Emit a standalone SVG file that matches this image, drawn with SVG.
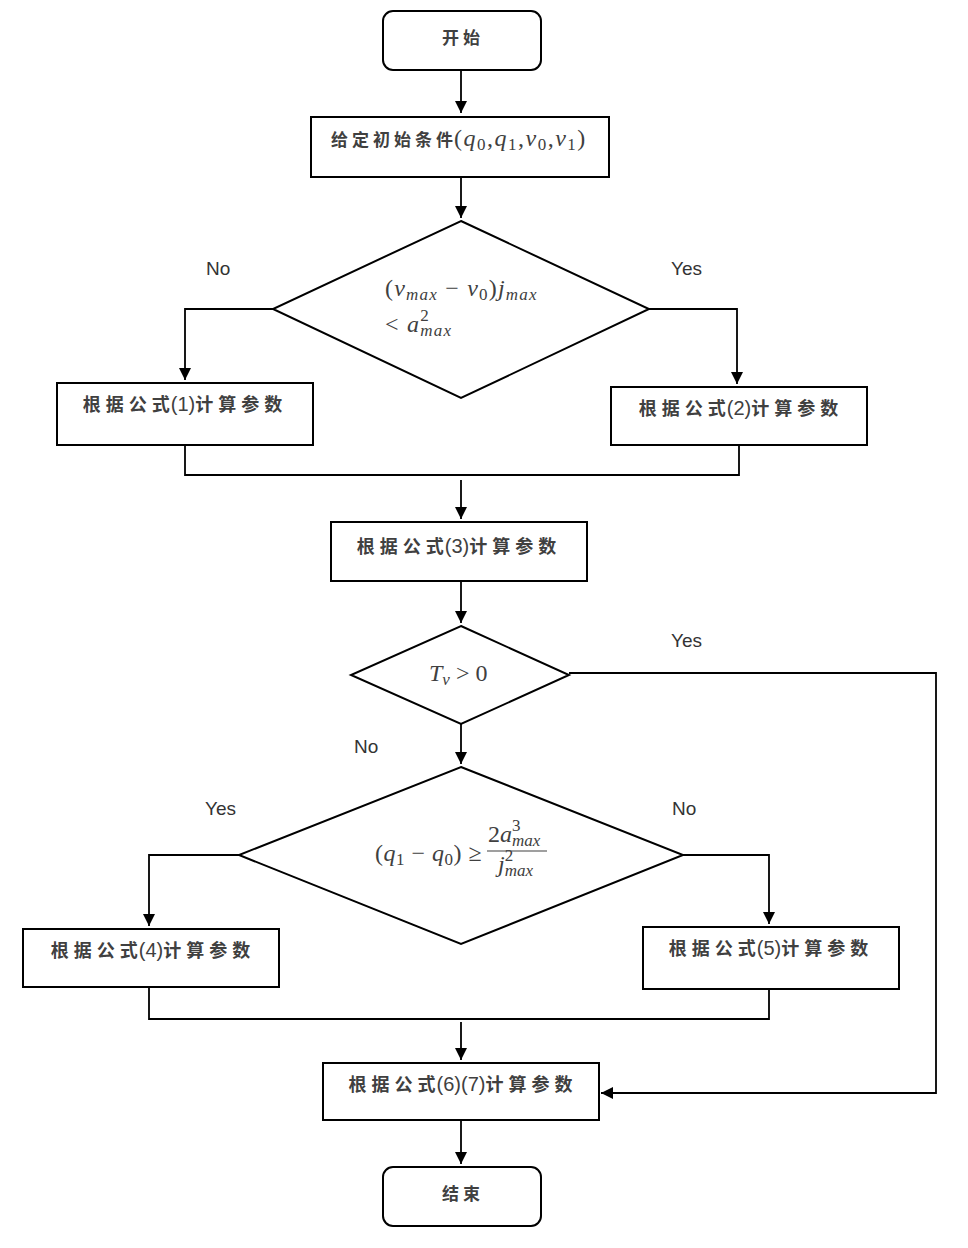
<svg xmlns="http://www.w3.org/2000/svg" width="968" height="1248" viewBox="0 0 968 1248">
<defs>
<marker id="arr" viewBox="0 0 10 10" refX="10" refY="5" markerWidth="12" markerHeight="12" markerUnits="userSpaceOnUse" orient="auto">
<path d="M0,0 L10,5 L0,10 Z" fill="#000"/>
</marker>
<style>
.box{fill:#fff;stroke:#000;stroke-width:2}
.ln{fill:none;stroke:#000;stroke-width:1.8}
.ar{fill:none;stroke:#000;stroke-width:1.8;marker-end:url(#arr)}
.cn{font-family:"Noto Sans CJK SC","Noto Sans CJK JP",sans-serif;font-weight:bold;font-size:17px;fill:#404040;text-anchor:middle}
.cs{font-family:"Noto Sans CJK SC","Noto Sans CJK JP",sans-serif;font-weight:bold;font-size:18px;letter-spacing:5px}
.c0{letter-spacing:1px}
.pn{font-family:"Liberation Sans",Arial,sans-serif;font-size:20px;letter-spacing:0}
.ft{fill:#404040;text-anchor:middle}
.m{font-family:"Liberation Serif",serif;font-style:italic;font-size:24px;fill:#404040}
.mu{font-family:"Liberation Serif",serif;font-size:24px;fill:#404040}
.sb{font-size:17px}
.sp{letter-spacing:1.5px}
.sp1{letter-spacing:1.2px}
.lb{font-family:"Liberation Sans",Arial,sans-serif;font-size:19px;fill:#333}
</style>
</defs>
<rect width="968" height="1248" fill="#fff"/>
<g id="connectors">
<path class="ar" d="M461,70 V113"/>
<path class="ar" d="M461,177 V218"/>
<path class="ar" d="M273,309 H185 V380"/>
<path class="ar" d="M649,309 H737 V384"/>
<path class="ln" d="M185,445 V475 H739 V445"/>
<path class="ar" d="M461,480 V519"/>
<path class="ar" d="M461,581 V623"/>
<path class="ar" d="M569,673 H936 V1093 H601"/>
<path class="ar" d="M461,724 V764"/>
<path class="ar" d="M239,855 H149 V926"/>
<path class="ar" d="M683,855 H769 V924"/>
<path class="ln" d="M149,987 V1019 H769 V989"/>
<path class="ar" d="M461,1022 V1060"/>
<path class="ar" d="M461,1120 V1164"/>
</g>
<g id="start">
<rect class="box" x="383" y="11" width="158" height="59" rx="10"/>
<text class="cn" x="463" y="44" style="letter-spacing:4px">开始</text>
</g>
<g id="init">
<rect class="box" x="311" y="117" width="298" height="60"/>
<text x="331" y="146" fill="#404040"><tspan class="cs" style="font-size:17px;letter-spacing:4px">给定初始条</tspan><tspan class="cs c0" style="font-size:17px">件</tspan><tspan class="sp"><tspan class="mu">(</tspan><tspan class="m">q</tspan><tspan class="mu sb" dy="4">0</tspan><tspan class="mu" dy="-4">,</tspan><tspan class="m">q</tspan><tspan class="mu sb" dy="4">1</tspan><tspan class="mu" dy="-4">,</tspan><tspan class="m">v</tspan><tspan class="mu sb" dy="4">0</tspan><tspan class="mu" dy="-4">,</tspan><tspan class="m">v</tspan><tspan class="mu sb" dy="4">1</tspan><tspan class="mu" dy="-4">)</tspan></tspan></text>
</g>
<g id="cond1">
<polygon class="box" points="461,221 649,309 461,398 273,309"/>
<text x="385" y="296" class="sp1"><tspan class="mu">(</tspan><tspan class="m">v</tspan><tspan class="m sb" dy="4">max</tspan><tspan class="mu" dy="-4"> − </tspan><tspan class="m">v</tspan><tspan class="mu sb" dy="4">0</tspan><tspan class="mu" dy="-4">)</tspan><tspan class="m">j</tspan><tspan class="m sb" dy="4">max</tspan></text>
<text x="385" y="332" class="sp1"><tspan class="mu">&lt; </tspan><tspan class="m">a</tspan><tspan class="mu sb" dy="-11">2</tspan><tspan class="m sb" dx="-9.5" dy="15">max</tspan></text>
</g>
<g id="f1">
<rect class="box" x="57" y="383" width="256" height="62"/>
<text class="ft" x="185" y="411"><tspan class="cs">根据公</tspan><tspan class="cs c0">式</tspan><tspan class="pn">(1)</tspan><tspan class="cs">计算参数</tspan></text>
</g>
<g id="f2">
<rect class="box" x="611" y="387" width="256" height="58"/>
<text class="ft" x="741" y="415"><tspan class="cs">根据公</tspan><tspan class="cs c0">式</tspan><tspan class="pn">(2)</tspan><tspan class="cs">计算参数</tspan></text>
</g>
<g id="f3">
<rect class="box" x="331" y="522" width="256" height="59"/>
<text class="ft" x="459" y="553"><tspan class="cs">根据公</tspan><tspan class="cs c0">式</tspan><tspan class="pn">(3)</tspan><tspan class="cs">计算参数</tspan></text>
</g>
<g id="cond2">
<polygon class="box" points="461,626 569,675 461,724 351,675"/>
<text x="429" y="681"><tspan class="m">T</tspan><tspan class="m sb" dy="4">v</tspan><tspan class="mu" dy="-4"> &gt; 0</tspan></text>
</g>
<g id="cond3">
<polygon class="box" points="461,767 683,855 461,944 239,855"/>
<text x="375" y="861" style="letter-spacing:0.5px"><tspan class="mu">(</tspan><tspan class="m">q</tspan><tspan class="mu sb" dy="4">1</tspan><tspan class="mu" dy="-4"> − </tspan><tspan class="m">q</tspan><tspan class="mu sb" dy="4">0</tspan><tspan class="mu" dy="-4">) ≥</tspan></text>
<text x="488" y="842"><tspan class="mu">2</tspan><tspan class="m">a</tspan><tspan class="mu sb" dy="-11">3</tspan><tspan class="m sb" dx="-8.5" dy="15">max</tspan></text>
<line x1="487" y1="851" x2="547" y2="851" stroke="#404040" stroke-width="1.2"/>
<text x="498" y="872"><tspan class="m">j</tspan><tspan class="mu sb" dy="-11">2</tspan><tspan class="m sb" dx="-8.5" dy="15">max</tspan></text>
</g>
<g id="f4">
<rect class="box" x="23" y="929" width="256" height="58"/>
<text class="ft" x="153" y="957"><tspan class="cs">根据公</tspan><tspan class="cs c0">式</tspan><tspan class="pn">(4)</tspan><tspan class="cs">计算参数</tspan></text>
</g>
<g id="f5">
<rect class="box" x="643" y="927" width="256" height="62"/>
<text class="ft" x="771" y="955"><tspan class="cs">根据公</tspan><tspan class="cs c0">式</tspan><tspan class="pn">(5)</tspan><tspan class="cs">计算参数</tspan></text>
</g>
<g id="f67">
<rect class="box" x="323" y="1063" width="276" height="57"/>
<text class="ft" x="463" y="1091"><tspan class="cs">根据公</tspan><tspan class="cs c0">式</tspan><tspan class="pn">(6)(7)</tspan><tspan class="cs">计算参数</tspan></text>
</g>
<g id="end">
<rect class="box" x="383" y="1167" width="158" height="59" rx="10"/>
<text class="cn" x="463" y="1200" style="letter-spacing:4px">结束</text>
</g>
<g id="labels">
<text class="lb" x="206" y="275">No</text>
<text class="lb" x="671" y="275">Yes</text>
<text class="lb" x="671" y="647">Yes</text>
<text class="lb" x="354" y="753">No</text>
<text class="lb" x="205" y="815">Yes</text>
<text class="lb" x="672" y="815">No</text>
</g>
</svg>
